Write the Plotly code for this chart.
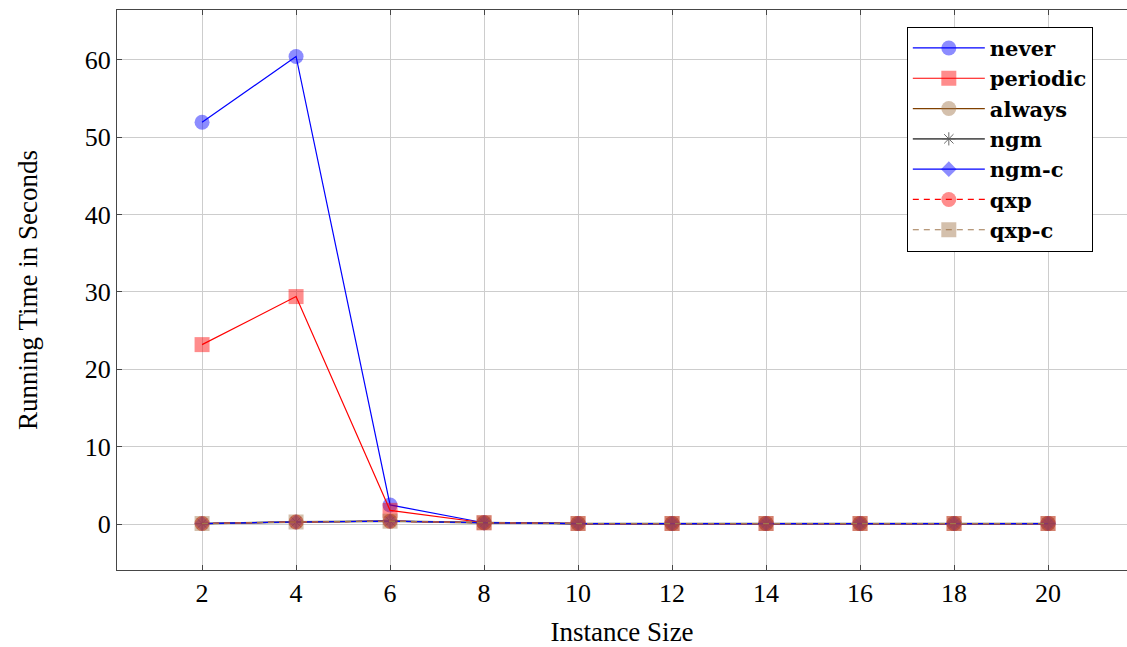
import plotly.graph_objects as go

sizes = [2, 4, 6, 8, 10, 12, 14, 16, 18, 20]
never = [51.9, 60.4, 2.5, 0.2, 0.1, 0.1, 0.1, 0.1, 0.1, 0.1]
periodic = [23.2, 29.4, 1.8, 0.2, 0.1, 0.1, 0.1, 0.1, 0.1, 0.1]
always = [0.1, 0.3, 0.4, 0.2, 0.1, 0.1, 0.1, 0.1, 0.1, 0.1]
ngm = [0.1, 0.3, 0.4, 0.2, 0.1, 0.1, 0.1, 0.1, 0.1, 0.1]
ngm_c = [0.1, 0.3, 0.4, 0.2, 0.1, 0.1, 0.1, 0.1, 0.1, 0.1]
qxp = [0.1, 0.3, 0.4, 0.2, 0.1, 0.1, 0.1, 0.1, 0.1, 0.1]
qxp_c = [0.1, 0.3, 0.4, 0.2, 0.1, 0.1, 0.1, 0.1, 0.1, 0.1]
x_ticks = [2, 4, 6, 8, 10, 12, 14, 16, 18, 20]
y_ticks = [0, 10, 20, 30, 40, 50, 60]

BLUE = "rgb(0,0,255)"
RED = "rgb(255,0,0)"
BROWN_LINE = "rgb(128,64,0)"
BROWN_MARK = "rgb(160,115,70)"
TAN_LINE = "rgb(160,120,80)"
GRAY = "rgb(90,90,90)"

series = [
    ("never", never, BLUE, 1.2, "solid", "circle", BLUE, 15, 0.45),
    ("periodic", periodic, RED, 1.2, "solid", "square", RED, 15, 0.45),
    ("always", always, BROWN_LINE, 1.2, "solid", "circle", BROWN_MARK, 15, 0.45),
    ("ngm", ngm, GRAY, 1.8, "solid", "asterisk-open", GRAY, 11, 0.9),
    ("ngm-c", ngm_c, BLUE, 1.2, "solid", "diamond", BLUE, 12, 0.45),
    ("qxp", qxp, RED, 1.2, "6px,5px", "circle", RED, 15, 0.45),
    ("qxp-c", qxp_c, TAN_LINE, 1.2, "6px,5px", "square", BROWN_MARK, 15, 0.45),
]

FONT = "Liberation Serif, Times New Roman, serif"

fig = go.Figure()
for name, ys, lc, lw, dash, sym, mc, ms, op in series:
    marker = dict(symbol=sym, size=ms, color=mc, opacity=op)
    if sym == "asterisk-open":
        marker["line"] = dict(color=mc, width=1)
    fig.add_trace(go.Scatter(
        x=sizes, y=ys, name=name, mode="lines+markers",
        line=dict(color=lc, width=lw, dash=dash),
        marker=marker,
    ))

fig.update_layout(
    width=1127, height=647,
    margin=dict(l=117, r=0, t=10, b=77),
    paper_bgcolor="white", plot_bgcolor="white",
    font=dict(family=FONT, size=25, color="black"),
    showlegend=True,
    legend=dict(
        x=0.782, y=0.97, xanchor="left", yanchor="top",
        bgcolor="white", bordercolor="black", borderwidth=1,
        font=dict(family="DejaVu Serif", size=21, color="black", weight="bold"),
        itemwidth=72, tracegroupgap=0,
    ),
    xaxis=dict(
        range=[0.19, 21.68], tickvals=x_ticks, ticktext=[str(v) for v in x_ticks],
        showgrid=True, gridcolor="rgb(205,205,205)", gridwidth=1,
        showline=True, linecolor="rgb(70,70,70)", linewidth=1, mirror="ticks",
        ticks="inside", ticklen=5, tickcolor="rgb(70,70,70)",
        zeroline=False,
        title=dict(text="Instance Size", font=dict(family=FONT, size=27), standoff=16),
        tickfont=dict(family=FONT, size=26),
    ),
    yaxis=dict(
        range=[-5.9, 66.4], tickvals=y_ticks, ticktext=[str(v) for v in y_ticks],
        showgrid=True, gridcolor="rgb(205,205,205)", gridwidth=1,
        showline=True, linecolor="rgb(70,70,70)", linewidth=1,
        ticks="inside", ticklen=5, tickcolor="rgb(70,70,70)",
        zeroline=False,
        title=dict(text="Running Time in Seconds", font=dict(family=FONT, size=27), standoff=39),
        tickfont=dict(family=FONT, size=26),
    ),
)

fig.write_html("out.html")
